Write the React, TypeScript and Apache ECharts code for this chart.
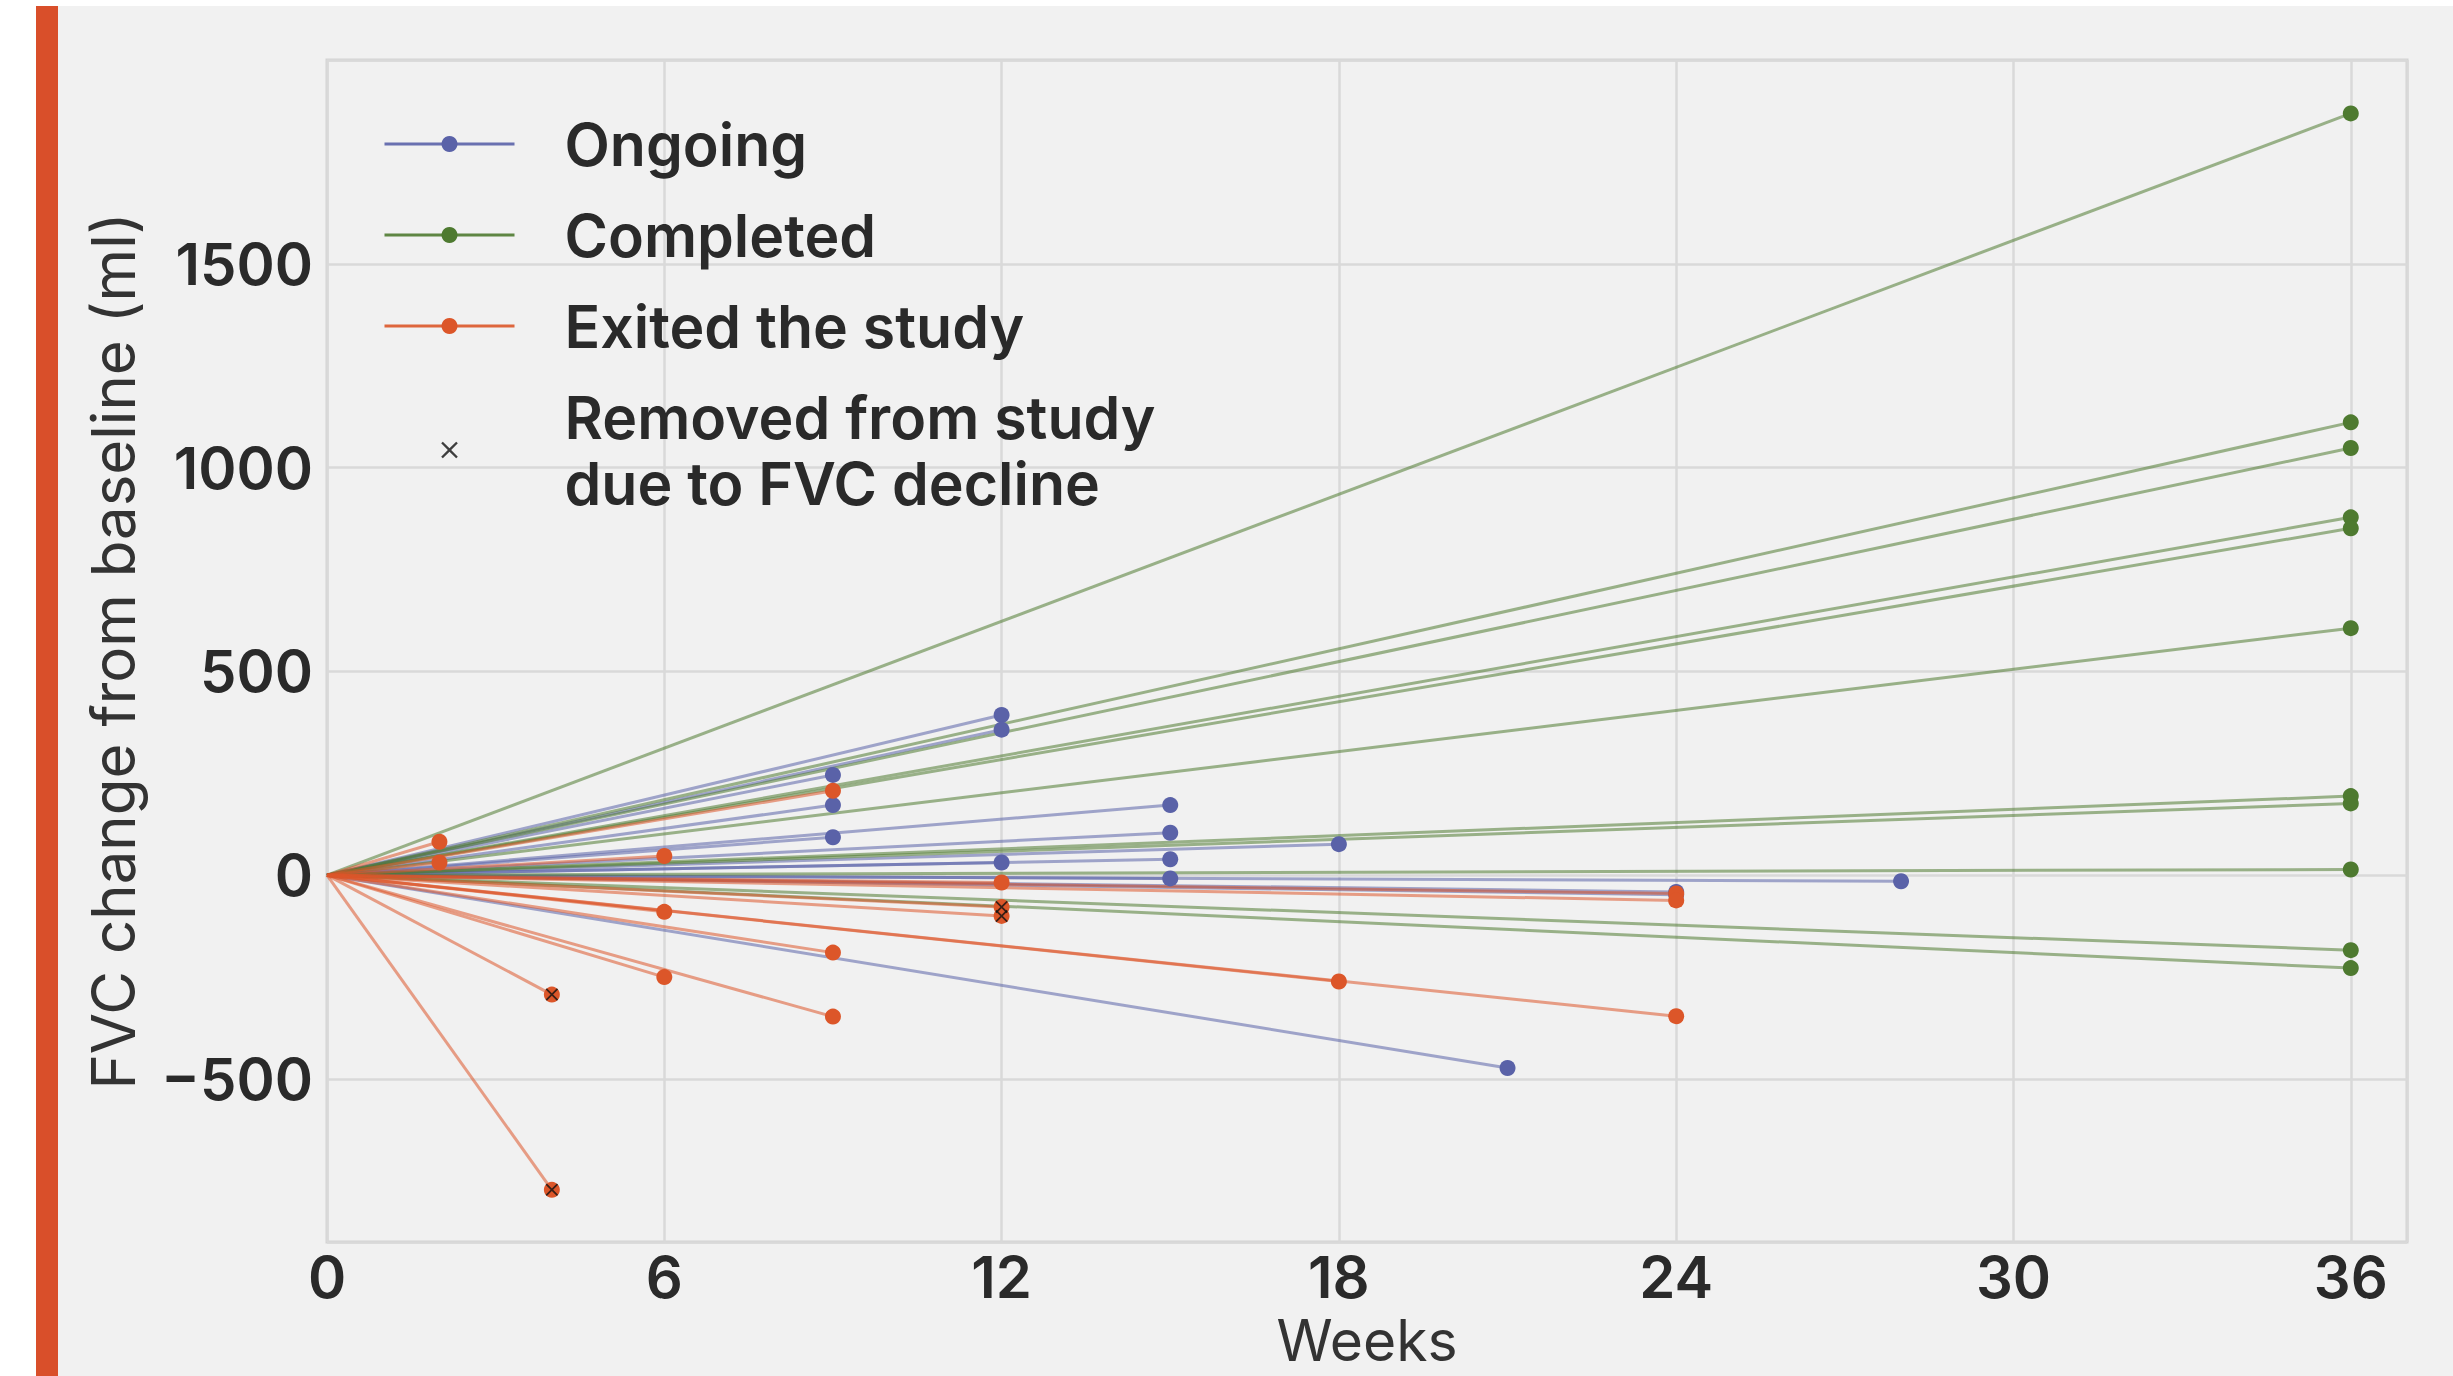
import React, { useEffect, useRef } from "react";
import * as echarts from "echarts";

// ---- data ----
const weekTicks = [0, 6, 12, 18, 24, 30, 36];
const valueTicks = [-500, 0, 500, 1000, 1500];

const ongoingWeeks = [9, 9, 9, 12, 12, 12, 15, 15, 15, 15, 18, 21, 24, 24, 28];
const ongoingValues = [246, 172, 93, 393, 357, 31, 172, 104, 39, -8, 76, -473, -41, -48, -15];

const completedWeeks = [36, 36, 36, 36, 36, 36, 36, 36, 36, 36, 36];
const completedValues = [1869, 1111, 1048, 878, 851, 606, 194, 176, 14, -184, -228];

const exitedWeeks = [2, 2, 4, 4, 6, 6, 6, 9, 9, 9, 12, 12, 12, 18, 24, 24, 24];
const exitedValues = [82, 31, -293, -772, 47, -90, -250, 207, -190, -347, -18, -78, -100, -261, -45, -62, -346];

const removedWeeks = [4, 4, 12, 12];
const removedValues = [-293, -772, -78, -100];

const NAME_ONGOING = "Ongoing";
const NAME_COMPLETED = "Completed";
const NAME_EXITED = "Exited the study";
const NAME_REMOVED = "Removed from study\ndue to FVC decline";

const C_ONGOING = "#5a62a8";
const C_COMPLETED = "#4e7a30";
const C_EXITED = "#dc5629";

const FONT = 'Inter, "Noto Sans", sans-serif';
const X_PATH =
  "path://M-1,-1M11,11M0,1L1,0L5,4L9,0L10,1L6,5L10,9L9,10L5,6L1,10L0,9L4,5Z";

function lineSeries(name: string, color: string, weeks: number[], values: number[]) {
  return weeks.map((w, i) => ({
    type: "line",
    name,
    data: [
      [0, 0],
      [w, values[i]],
    ],
    symbol: "none",
    lineStyle: { color, width: 3, opacity: 0.55 },
    itemStyle: { color },
    silent: true,
    z: 2,
  }));
}

function pointSeries(name: string, color: string, weeks: number[], values: number[]) {
  return {
    type: "scatter",
    name,
    data: weeks.map((w, i) => [w, values[i]]),
    symbol: "circle",
    symbolSize: 16,
    itemStyle: { color, opacity: 1 },
    silent: true,
    z: 4,
  };
}

export default function App() {
  const ref = useRef<HTMLDivElement>(null);

  useEffect(() => {
    if (!ref.current) return;
    const chart = echarts.init(ref.current, undefined, { renderer: "svg" });

    const series: any[] = [
      ...lineSeries(NAME_ONGOING, C_ONGOING, ongoingWeeks, ongoingValues),
      ...lineSeries(NAME_COMPLETED, C_COMPLETED, completedWeeks, completedValues),
      ...lineSeries(NAME_EXITED, C_EXITED, exitedWeeks, exitedValues),
      pointSeries(NAME_ONGOING, C_ONGOING, ongoingWeeks, ongoingValues),
      pointSeries(NAME_COMPLETED, C_COMPLETED, completedWeeks, completedValues),
      pointSeries(NAME_EXITED, C_EXITED, exitedWeeks, exitedValues),
      {
        type: "scatter",
        name: NAME_REMOVED,
        data: removedWeeks.map((w, i) => [w, removedValues[i]]),
        symbol: X_PATH,
        symbolSize: 15,
        itemStyle: { color: "#111111" },
        silent: true,
        z: 6,
      },
    ];

    const labelStyle = {
      fontFamily: FONT,
      fontSize: 58,
      fontWeight: 600,
      color: "#2a2a2a",
      lineHeight: 60,
    };

    chart.setOption({
      animation: false,
      backgroundColor: "#f1f1f1",
      graphic: [
        { type: "rect", shape: { x: 0, y: 0, width: 2453, height: 6 }, style: { fill: "#ffffff" }, silent: true },
        { type: "rect", shape: { x: 0, y: 0, width: 36, height: 1376 }, style: { fill: "#ffffff" }, silent: true },
        { type: "rect", shape: { x: 36, y: 6, width: 22, height: 1370 }, style: { fill: "#d94f2a" }, silent: true },
      ],
      grid: {
        left: 327,
        right: 46,
        top: 60,
        bottom: 134,
        containLabel: false,
        outerBoundsMode: "none",
        show: true,
        backgroundColor: "transparent",
        borderColor: "#d3d3d3",
        borderWidth: 3,
      },
      legend: {
        orient: "vertical",
        left: 383,
        top: 111,
        padding: 0,
        itemWidth: 130,
        itemHeight: 20,
        itemGap: 25,
        data: [NAME_ONGOING, NAME_COMPLETED, NAME_EXITED, NAME_REMOVED],
        lineStyle: { width: 3, opacity: 0.9 },
        textStyle: {
          fontFamily: FONT,
          fontSize: 59,
          fontWeight: 600,
          color: "#2a2a2a",
          lineHeight: 66,
          padding: [0, 0, 0, 45],
        },
        selectedMode: false,
      },
      xAxis: {
        type: "value",
        min: weekTicks[0],
        max: 37,
        interval: weekTicks[1] - weekTicks[0],
        name: "Weeks",
        nameLocation: "middle",
        nameGap: 68,
        nameTextStyle: {
          fontFamily: FONT,
          fontSize: 57,
          fontWeight: 400,
          color: "#333333",
          lineHeight: 56,
        },
        axisLine: { show: false },
        axisTick: { show: false },
        axisLabel: {
          ...labelStyle,
          margin: 5,
          showMinLabel: true,
          showMaxLabel: false,
          formatter: (v: number) => (weekTicks.includes(v) ? String(v) : ""),
        },
        splitLine: { show: true, lineStyle: { color: "#d9d9d9", width: 2.5 } },
      },
      yAxis: {
        type: "value",
        min: -900,
        max: 2000,
        splitNumber: 5,
        name: "FVC change from baseline (ml)",
        nameLocation: "middle",
        nameGap: 184,
        nameTextStyle: { fontFamily: FONT, fontSize: 60, fontWeight: 400, color: "#333333" },
        axisLine: { show: false },
        axisTick: { show: false },
        axisLabel: {
          ...labelStyle,
          margin: 14,
          showMinLabel: false,
          showMaxLabel: false,
          formatter: (v: number) =>
            valueTicks.includes(v) ? String(v).replace("-", "\u2212") : "",
        },
        splitLine: { show: true, lineStyle: { color: "#d9d9d9", width: 2.5 } },
      },
      series,
    });

    return () => chart.dispose();
  }, []);

  return (
    <div
      ref={ref}
      style={{ position: "absolute", left: 0, top: 0, width: 2453, height: 1376 }}
    />
  );
}
